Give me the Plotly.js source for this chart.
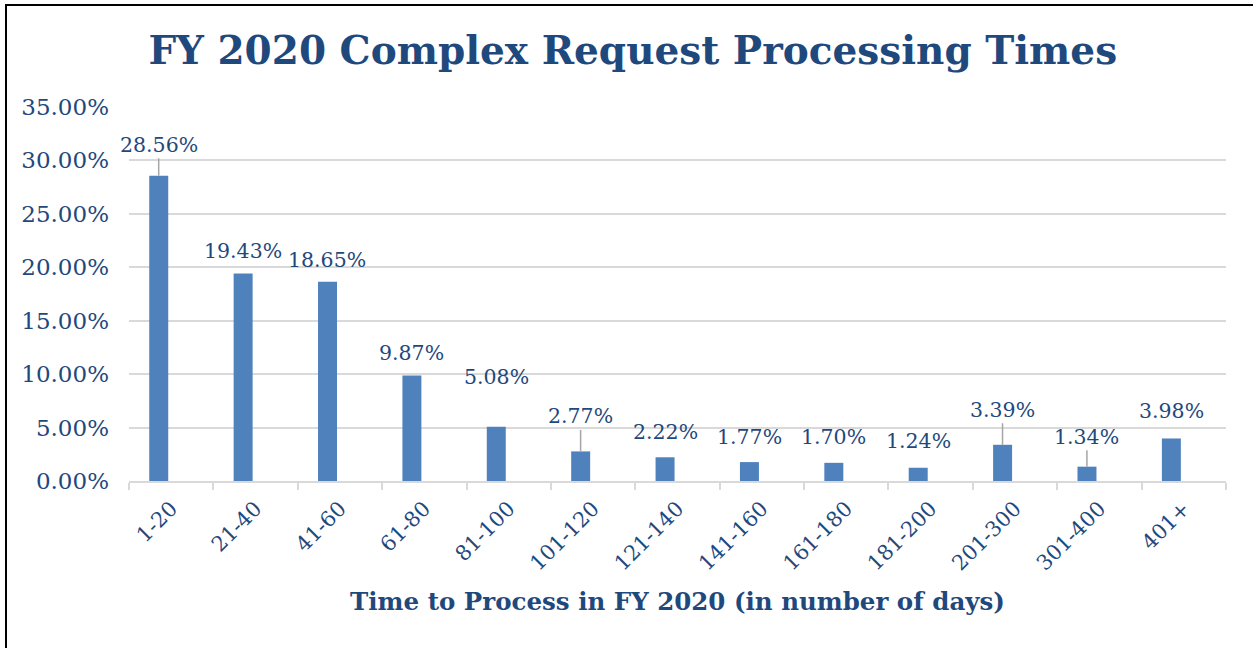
<!DOCTYPE html>
<html>
<head>
<meta charset="utf-8">
<script src="https://cdn.plot.ly/plotly-3.0.1.min.js"></script>
<style>
  body { margin: 0; background: #fff; }
  #wrap { position: relative; width: 1253px; height: 648px; }
  #chart { width: 1253px; height: 648px; }
  #frame { position: absolute; left: 5px; top: 4px; width: 1260px; height: 660px;
           border-left: 2px solid #000; border-top: 2px solid #000; pointer-events: none; }
</style>
</head>
<body>
<div id="wrap">
  <div id="chart"></div>
  <div id="frame"></div>
</div>
<script>
var categories = ['1-20', '21-40', '41-60', '61-80', '81-100', '101-120', '121-140',
                  '141-160', '161-180', '181-200', '201-300', '301-400', '401+'];
var shares = [28.56, 19.43, 18.65, 9.87, 5.08, 2.77, 2.22, 1.77, 1.70, 1.24, 3.39, 1.34, 3.98];

var navy = '#1f497d';
var serif = 'Georgia, "DejaVu Serif", serif';

// label lift above each bar (px) and whether a leader line is shown
var lift = [31, 22, 22, 23, 50, 35, 25, 25, 26, 27, 35, 30, 27];
var leader = [true, false, false, false, false, true, false, false, false, false, true, true, false];

// bars sit a little left of the category centre, like the original
var trace = {
    type: 'bar',
    x: categories,
    y: shares,
    width: 0.225,
    offset: -0.26,
    marker: { color: '#4f81bd' },
    hoverinfo: 'x+y'
};

var notes = shares.map(function (v, i) {
    return {
        x: categories[i],
        y: v,
        xref: 'x',
        yref: 'y',
        xshift: -12.5,
        text: v.toFixed(2) + '%',
        showarrow: true,
        arrowhead: 0,
        arrowwidth: 1.5,
        arrowcolor: leader[i] ? '#a6a6a6' : 'rgba(0,0,0,0)',
        ax: 0,
        ay: -lift[i],
        standoff: 0,
        font: { family: serif, size: 20.5, color: navy }
    };
});

var layout = {
    width: 1253,
    height: 648,
    margin: { l: 129, r: 27, t: 107, b: 167 },
    paper_bgcolor: '#fff',
    plot_bgcolor: '#fff',
    showlegend: false,
    font: { family: serif, color: navy },
    title: {
        text: '<b>FY 2020 Complex Request Processing Times</b>',
        font: { family: serif, size: 39, color: navy },
        x: 0.505,
        xanchor: 'center',
        y: 0.922,
        yanchor: 'middle'
    },
    xaxis: {
        type: 'category',
        range: [-0.5, 12.5],
        tickangle: -45,
        tickfont: { family: serif, size: 21, color: navy },
        ticklabelstandoff: 5,
        showline: true,
        linecolor: '#d9d9d9',
        linewidth: 2,
        ticks: 'outside',
        tickson: 'boundaries',
        ticklen: 7,
        tickcolor: '#d9d9d9',
        tickwidth: 2,
        title: {
            text: '<b>Time to Process in FY 2020 (in number of days)</b>',
            font: { family: serif, size: 24.5, color: navy },
            standoff: 18
        }
    },
    yaxis: {
        range: [0, 35],
        dtick: 5,
        tickformat: '.2f',
        ticksuffix: '%',
        tickfont: { family: serif, size: 23, color: navy },
        showgrid: true,
        gridcolor: '#d9d9d9',
        gridwidth: 2,
        zeroline: false,
        showline: false,
        ticks: '',
        ticklabelstandoff: 19
    },
    annotations: notes
};

Plotly.newPlot('chart', [trace], layout, { displayModeBar: false, staticPlot: true });
</script>
</body>
</html>
